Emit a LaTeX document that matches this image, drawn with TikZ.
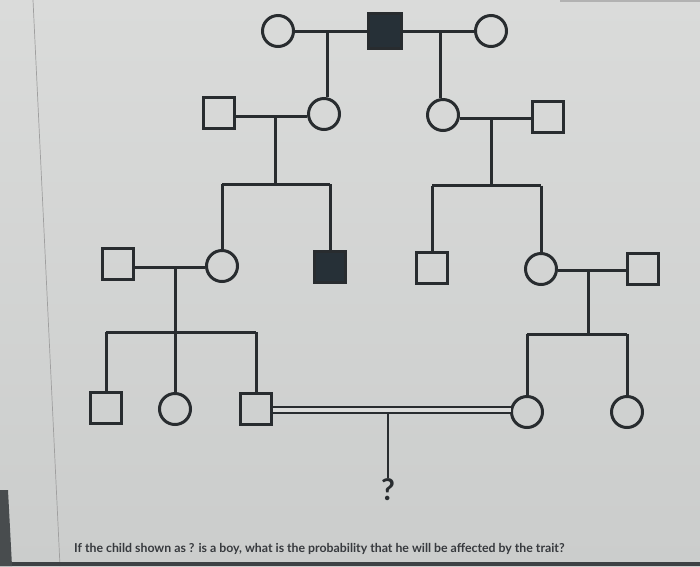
\documentclass[tikz,border=0pt]{standalone}
\usepackage{fontspec}
\setmainfont{Lato}
\usetikzlibrary{calc}
\definecolor{bgtop}{RGB}{218,219,218}
\definecolor{bgbot}{RGB}{203,205,204}
\definecolor{ink}{RGB}{40,44,47}
\definecolor{fillink}{RGB}{38,48,55}
\definecolor{txt}{RGB}{55,58,62}
\tikzset{
  pline/.style={draw=ink, line width=3pt},
  male/.style={rectangle, draw=ink, line width=3pt, minimum size=31pt, inner sep=0pt},
  female/.style={circle, draw=ink, line width=3pt, minimum size=31pt, inner sep=0pt},
  amale/.style={male, fill=fillink},
  dbl/.style={draw=ink, line width=2.2pt, double=bgtop, double distance=3.6pt}
}
\begin{document}
\begin{tikzpicture}[x=1pt,y=-1pt]
\useasboundingbox (0,0) rectangle (700,566);
\shade[top color=bgtop, bottom color=bgbot] (0,0) rectangle (700,566);
\draw[gray!75, line width=0.7pt] (33,0) -- (60,566);
\fill[ink!90] (0,561.5) rectangle (700,566);
\fill[ink!85] (0,490) -- (8,490) -- (12,566) -- (0,566) -- cycle;
\fill[gray!60] (560,0) rectangle (700,1.5);

% generation I
\node[female] (c1) at (278,31) {};
\node[amale, minimum width=33pt, minimum height=35pt] (s1) at (385,31) {};
\node[female] (c2) at (491,31) {};
\draw[pline] (c1) -- (s1);
\draw[pline] (s1) -- (c2);
\coordinate (m1) at (327,31);
\coordinate (m2) at (440,31);

% generation II
\node[male] (s2) at (219,113) {};
\node[female] (c3) at (324,114) {};
\node[female] (c4) at (443,115) {};
\node[male] (s3) at (548,117) {};
\draw[pline] (m1) -- (m1 |- c3.north);
\draw[pline] (m2) -- (m2 |- c4.north);
\draw[pline] (s2.east |- 0,116) -- (c3.west |- 0,116);
\draw[pline] (c4.east |- 0,118) -- (s3.west |- 0,118);
\coordinate (m3) at (275,116);
\coordinate (m4) at (491,118);
\coordinate (b1) at (275,184);
\coordinate (b2) at (491,185.5);

% generation III
\node[male] (s5) at (118,264) {};
\node[female] (c5) at (222,266) {};
\node[amale] (f2) at (330,267) {};
\node[male] (s4) at (432,268) {};
\node[female] (c6) at (541,269) {};
\node[male] (s6) at (643,269) {};
\draw[pline] (m3) -- (b1);
\draw[pline] (c5.north |- b1) -- (f2.north |- b1);
\draw[pline] (c5.north |- b1) -- (c5.north);
\draw[pline] (f2.north |- b1) -- (f2.north);
\draw[pline] (m4) -- (b2);
\draw[pline] (s4.north |- b2) -- (c6.north |- b2);
\draw[pline] (s4.north |- b2) -- (s4.north);
\draw[pline] (c6.north |- b2) -- (c6.north);
\draw[pline] (s5.east |- 0,267) -- (c5.west |- 0,267);
\draw[pline] (c6.east |- 0,270) -- (s6.west |- 0,270);
\coordinate (m5) at (175,267);
\coordinate (m6) at (588,270);
\coordinate (b3) at (175,332);
\coordinate (b4) at (588,334);

% generation IV
\node[male] (s7) at (106,408) {};
\node[female] (c7) at (175,409) {};
\node[male] (s8) at (256,409) {};
\node[female] (c8) at (527,412) {};
\node[female] (c9) at (627,412) {};
\draw[pline] (m5) -- (c7.north);
\draw[pline] (s7.north |- b3) -- (s8.north |- b3);
\draw[pline] (s7.north |- b3) -- (s7.north);
\draw[pline] (s8.north |- b3) -- (s8.north);
\draw[pline] (m6) -- (b4);
\draw[pline] (c8.north |- b4) -- (c9.north |- b4);
\draw[pline] (c8.north |- b4) -- (c8.north);
\draw[pline] (c9.north |- b4) -- (c9.north);

% consanguineous mating and child
\coordinate (dl) at (272.5,410);
\coordinate (dr) at (510.5,410);
\draw[dbl] (dl) -- (dr);
\coordinate (mc) at (388,413);
\node[font=\fontsize{30}{34}\selectfont\bfseries, text=ink, inner sep=1pt] (q) at (388,490) {?};
\draw[ink, line width=2pt] (mc) -- (q.north);

% question text
\node[font=\fontsize{12.3}{14}\selectfont\bfseries, text=txt, anchor=west, inner sep=0pt] (qtext) at (74,549) {If the child shown as ? is a boy, what is the probability that he will be affected by the trait?};
\end{tikzpicture}
\end{document}
